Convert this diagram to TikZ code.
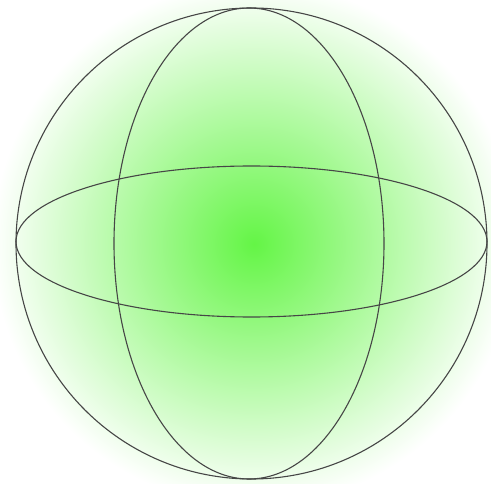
\documentclass[tikz,border=0pt]{standalone}
\begin{document}
\definecolor{ballgreen}{RGB}{100,245,70}
\definecolor{linegray}{RGB}{70,70,70}
\begin{tikzpicture}[x=1pt,y=-1pt,
  rim/.style={draw=linegray,line width=1.1pt}]
\useasboundingbox (0,0) rectangle (491,484);
\fill[white] (0,0) rectangle (491,484);
\shade[inner color=ballgreen,outer color=white] (254,244) circle (262);
\coordinate (c) at (251.5,243.5);
\coordinate (h) at (251.5,241.5);
\coordinate (v) at (249,243.5);
\draw[rim] (c) circle (235.5);
\draw[rim] (h) ellipse (235.5 and 75.5);
\draw[rim] (v) ellipse (135 and 235.5);
\end{tikzpicture}
\end{document}
